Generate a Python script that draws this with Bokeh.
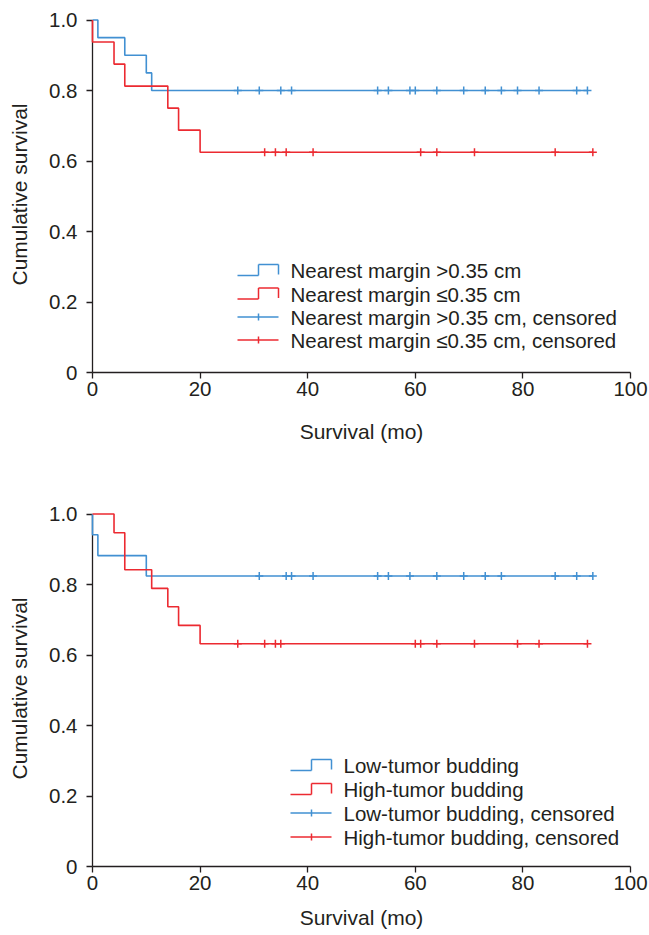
import numpy as np
from bokeh.plotting import figure
from bokeh.layouts import column
from bokeh.models import Range1d, FixedTicker, Label, Arrow
from bokeh.embed import file_html
from bokeh.resources import INLINE

BLUE = "#4190d2"
RED = "#ec2a31"
INK = "#231f20"
FONT = "Liberation Sans"

# ---------------- axes ----------------
x_ticks = [0, 20, 40, 60, 80, 100]
x_tick_labels = ["0", "20", "40", "60", "80", "100"]
y_ticks = [0, 0.2, 0.4, 0.6, 0.8, 1.0]
y_tick_labels = ["0", "0.2", "0.4", "0.6", "0.8", "1.0"]
x_title = "Survival (mo)"
y_title = "Cumulative survival"

# ---------------- chart 1: nearest margin ----------------
margin_gt_label = "Nearest margin >0.35 cm"
margin_gt_times = [0, 1, 6, 10, 11, 92]
margin_gt_surv = [1.0, 0.95, 0.90, 0.85, 0.80, 0.80]
margin_gt_censored = [27, 31, 35, 37, 53, 55, 59, 60, 64, 69, 73, 76, 79, 83, 90, 92]

margin_le_label = "Nearest margin \u22640.35 cm"
margin_le_times = [0, 0, 4, 6, 14, 16, 20, 93]
margin_le_surv = [1.0, 0.9375, 0.875, 0.8125, 0.75, 0.6875, 0.625, 0.625]
margin_le_censored = [32, 34, 36, 41, 61, 64, 71, 86, 93]

# ---------------- chart 2: tumor budding ----------------
low_label = "Low-tumor budding"
low_times = [0, 0, 1, 10, 93]
low_surv = [1.0, 0.941, 0.882, 0.824, 0.824]
low_censored = [31, 36, 37, 41, 53, 55, 59, 64, 69, 73, 76, 86, 90, 93]

high_label = "High-tumor budding"
high_times = [0, 4, 6, 11, 14, 16, 20, 92]
high_surv = [1.0, 0.947, 0.842, 0.789, 0.737, 0.684, 0.632, 0.632]
high_censored = [27, 32, 34, 35, 60, 61, 64, 71, 79, 83, 92]


def surv_at(times, surv, ts):
    t = np.asarray(times, dtype=float)
    s = np.asarray(surv, dtype=float)
    idx = np.searchsorted(t, np.asarray(ts, dtype=float), side="right") - 1
    return s[idx].tolist()


def make_fig(border_top, border_bottom, xlabel_standoff):
    p = figure(frame_width=538, frame_height=356,
               x_range=Range1d(0, 100), y_range=Range1d(0, 1.01),
               output_backend="svg", toolbar_location=None,
               min_border_left=92, min_border_right=19,
               min_border_top=border_top, min_border_bottom=border_bottom,
               background_fill_color="white", border_fill_color="white",
               outline_line_color=None)
    p.grid.visible = False
    for ax in (p.xaxis[0], p.yaxis[0]):
        ax.axis_line_color = INK
        ax.axis_line_width = 1.3
        ax.major_tick_line_color = INK
        ax.major_tick_line_width = 1.3
        ax.major_tick_out = 6
        ax.major_tick_in = 0
        ax.minor_tick_line_color = None
        ax.major_label_text_font = FONT
        ax.major_label_text_font_size = "20.5px"
        ax.major_label_text_color = INK
        ax.axis_label_text_font = FONT
        ax.axis_label_text_font_size = "21px"
        ax.axis_label_text_font_style = "normal"
        ax.axis_label_text_color = INK
    xa = p.xaxis[0]
    xa.ticker = FixedTicker(ticks=x_ticks)
    xa.major_label_overrides = {t: l for t, l in zip(x_ticks, x_tick_labels)}
    xa.axis_label = x_title
    xa.major_label_standoff = 3
    xa.axis_label_standoff = xlabel_standoff
    ya = p.yaxis[0]
    ya.ticker = FixedTicker(ticks=y_ticks)
    ya.major_label_overrides = {t: l for t, l in zip(y_ticks, y_tick_labels)}
    ya.bounds = (0, 1)
    ya.axis_label = y_title
    ya.major_label_standoff = 9
    ya.axis_label_standoff = 15
    return p


def add_curve(p, times, surv, censored, color):
    r = p.step(times, surv, mode="after", line_color=color, line_width=1.6)
    r.level = "overlay"
    s = p.scatter(censored, surv_at(times, surv, censored), marker="cross",
                  size=8, line_color=color, line_width=1.5)
    s.level = "overlay"


def seg(p, x0, y0, x1, y1, color):
    p.add_layout(Arrow(end=None, start=None, x_start=x0, y_start=y0, x_end=x1, y_end=y1,
                       start_units="screen", end_units="screen",
                       line_color=color, line_width=1.5))


def add_legend(p, entries, gx, tx, rows):
    for (label, color, kind), c in zip(entries, rows):
        if kind == "step":
            seg(p, gx, c - 5, gx + 21, c - 5, color)
            seg(p, gx + 21, c - 5, gx + 21, c + 6, color)
            seg(p, gx + 21, c + 6, gx + 41, c + 6, color)
            seg(p, gx + 41, c + 6, gx + 41, c - 4, color)
        else:
            seg(p, gx, c, gx + 41, c, color)
            seg(p, gx + 21, c - 3.5, gx + 21, c + 3.5, color)
        p.add_layout(Label(x=tx, y=c, x_units="screen", y_units="screen", text=label,
                           text_font=FONT, text_font_size="20.5px", text_color=INK,
                           text_baseline="middle"))


p1 = make_fig(16, 78, 21)
add_curve(p1, margin_gt_times, margin_gt_surv, margin_gt_censored, BLUE)
add_curve(p1, margin_le_times, margin_le_surv, margin_le_censored, RED)
add_legend(p1, [(margin_gt_label, BLUE, "step"), (margin_le_label, RED, "step"),
                (margin_gt_label + ", censored", BLUE, "cens"),
                (margin_le_label + ", censored", RED, "cens")],
           145, 198, [102, 78.5, 55.5, 32.5])

p2 = make_fig(60, 69, 13)
add_curve(p2, low_times, low_surv, low_censored, BLUE)
add_curve(p2, high_times, high_surv, high_censored, RED)
add_legend(p2, [(low_label, BLUE, "step"), (high_label, RED, "step"),
                (low_label + ", censored", BLUE, "cens"),
                (high_label + ", censored", RED, "cens")],
           198, 251, [101, 77, 53.5, 29.5])

layout = column(p1, p2)
open("out.html", "w").write(file_html(layout, INLINE, title="Survival"))
